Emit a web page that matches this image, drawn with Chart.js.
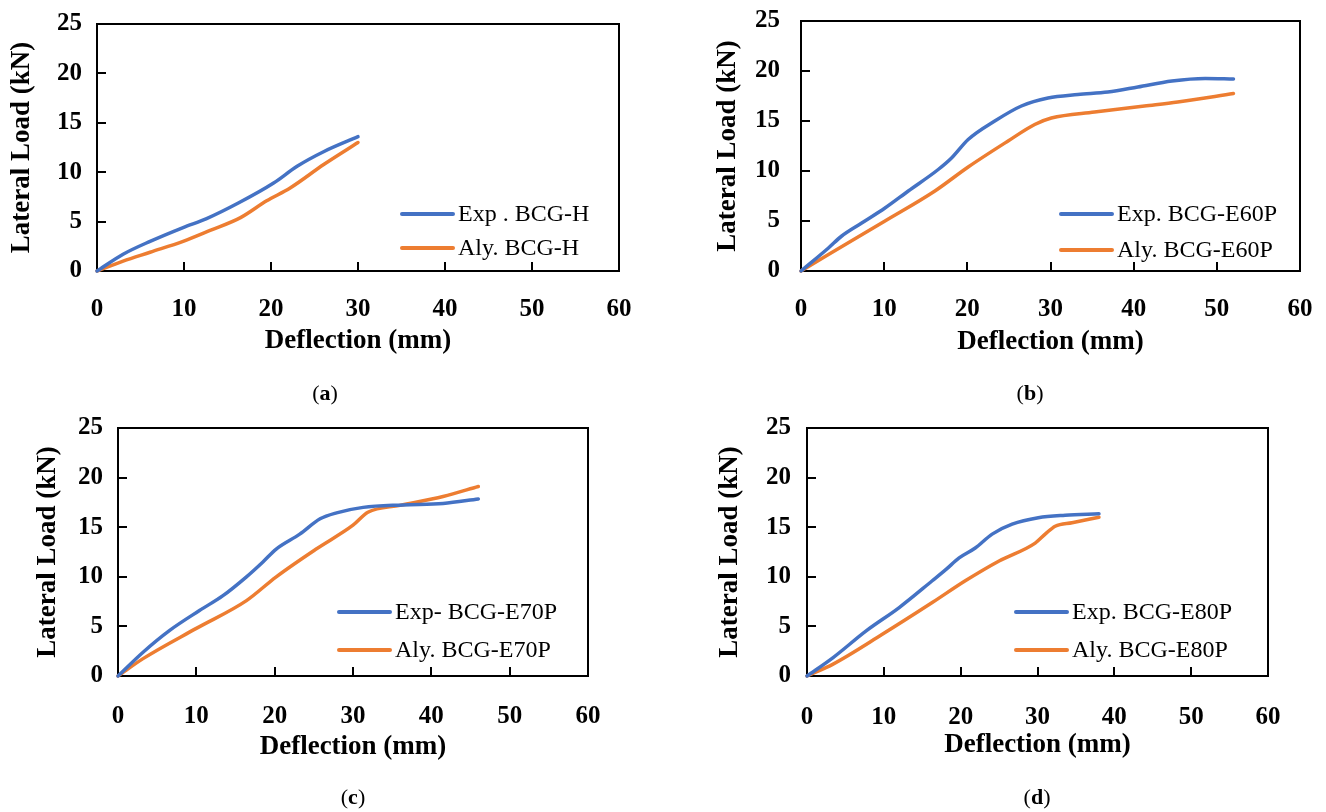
<!doctype html>
<html>

<head>
    <title>Lateral Load vs Deflection</title>
    <script src="https://cdn.jsdelivr.net/npm/chart.js"></script>
    <style>
        body { margin: 0; background: #fff; width: 1326px; height: 812px; position: relative; overflow: hidden; }
        canvas { position: absolute; left: 0; top: 0; }
        .cap { position: absolute; font: 22px "Liberation Serif", serif; color: #000; transform: translate(-50%, -50%); }
    </style>
</head>

<body>
    <canvas id="chartA" width="1326" height="812"></canvas>
    <canvas id="chartB" width="1326" height="812"></canvas>
    <canvas id="chartC" width="1326" height="812"></canvas>
    <canvas id="chartD" width="1326" height="812"></canvas>

    <div class="cap" style="left:325px; top:393px;">(<b>a</b>)</div>
    <div class="cap" style="left:1030px; top:393px;">(<b>b</b>)</div>
    <div class="cap" style="left:353px; top:797px;">(<b>c</b>)</div>
    <div class="cap" style="left:1037px; top:797px;">(<b>d</b>)</div>

    <script>
        // axis ticks
        const xTicks = [0, 10, 20, 30, 40, 50, 60];
        const yTicks = [0, 5, 10, 15, 20, 25];
        const xTitle = 'Deflection (mm)';
        const yTitle = 'Lateral Load (kN)';

        // (a) BCG-H
        const expAX = [0, 3, 6.1, 9.9, 12.6, 16.3, 20.3, 23, 26.1, 30];
        const expAY = [0, 1.7, 3.0, 4.4, 5.3, 6.9, 8.9, 10.6, 12.1, 13.6];
        const alyAX = [0, 3, 6.1, 9.9, 13, 16.5, 19.5, 22.2, 26.1, 30];
        const alyAY = [0, 1.0, 1.9, 3.0, 4.1, 5.4, 7.1, 8.4, 10.8, 13.0];

        // (b) BCG-E60P
        const expBX = [0, 3.3, 4.9, 7.3, 10.1, 12.9, 16.5, 18.1, 20.1, 23.3, 26.5, 29.7, 33.3, 36.9, 40.5, 44.6, 48.6, 52];
        const expBY = [0, 2.3, 3.5, 4.8, 6.3, 8.0, 10.15, 11.3, 13.15, 15.0, 16.5, 17.3, 17.65, 17.9, 18.4, 19.0, 19.25, 19.2];
        const alyBX = [0, 3.3, 10.1, 16.1, 20.1, 24.9, 28.1, 30.1, 35.3, 41.3, 45.3, 52];
        const alyBY = [0, 1.65, 5.0, 8.0, 10.4, 13.0, 14.65, 15.3, 15.9, 16.5, 16.9, 17.75];

        // (c) BCG-E70P
        const expCX = [0, 3.2, 6.6, 10.4, 13.4, 16.4, 18.5, 20.2, 23.2, 25.8, 27.9, 31.3, 36.4, 41.5, 46];
        const expCY = [0, 2.4, 4.6, 6.6, 8.1, 10.0, 11.5, 12.8, 14.3, 15.85, 16.45, 17.0, 17.25, 17.4, 17.85];
        const alyCX = [0, 3.2, 10, 16.4, 20.2, 25.3, 30, 31.9, 36, 41.5, 46];
        const alyCY = [0, 1.75, 4.8, 7.6, 10.0, 12.8, 15.2, 16.5, 17.2, 18.1, 19.1];

        // (d) BCG-E80P
        const expDX = [0, 3.4, 7.7, 12, 16.3, 18.1, 19.8, 21.9, 24.1, 26.7, 30.1, 33.6, 38];
        const expDY = [0, 1.86, 4.55, 6.9, 9.6, 10.75, 11.9, 12.9, 14.3, 15.3, 15.95, 16.2, 16.35];
        const alyDX = [0, 3.4, 9.8, 16.3, 20.6, 25, 29.7, 31, 32.3, 34.5, 38];
        const alyDY = [0, 1.2, 4.2, 7.4, 9.6, 11.6, 13.4, 14.3, 15.1, 15.45, 16.0];

        const legendA = ['Exp . BCG-H', 'Aly. BCG-H'];
        const legendB = ['Exp. BCG-E60P', 'Aly. BCG-E60P'];
        const legendC = ['Exp- BCG-E70P', 'Aly. BCG-E70P'];
        const legendD = ['Exp. BCG-E80P', 'Aly. BCG-E80P'];

        const BLUE = '#4472C4';
        const ORANGE = '#ED7D31';
        const FAMILY = '"Liberation Serif", "Times New Roman", serif';
        const W = 1326, H = 812;
        const TICK_SIZE = 25, TITLE_SIZE = 27;

        Chart.defaults.color = '#000';
        Chart.defaults.font.family = FAMILY;

        function pts(xs, ys) {
            return xs.map((x, i) => ({ x: x, y: ys[i] }));
        }

        // scales should not push the plot area around, positions come from layout.padding
        function noScalePadding(s) {
            s.paddingLeft = 0;
            s.paddingRight = 0;
            s.paddingTop = 0;
            s.paddingBottom = 0;
        }

        // black box round the plot area
        const frame = {
            id: 'frame',
            beforeDatasetsDraw(chart) {
                const { ctx, chartArea: { left, top, right, bottom } } = chart;
                ctx.save();
                ctx.strokeStyle = '#000';
                ctx.lineWidth = 2;
                ctx.strokeRect(left, top, right - left, bottom - top);
                ctx.restore();
            }
        };

        // short tick marks pointing into the plot
        const innerTicks = {
            id: 'innerTicks',
            beforeDatasetsDraw(chart) {
                const { ctx, chartArea: { left, top, right, bottom }, scales: { x, y } } = chart;
                ctx.save();
                ctx.strokeStyle = '#000';
                ctx.lineWidth = 2;
                ctx.beginPath();
                xTicks.slice(1, -1).forEach(v => {
                    const px = Math.round(x.getPixelForValue(v));
                    ctx.moveTo(px, bottom);
                    ctx.lineTo(px, bottom - 9);
                });
                yTicks.slice(1, -1).forEach(v => {
                    const py = Math.round(y.getPixelForValue(v));
                    ctx.moveTo(left, py);
                    ctx.lineTo(left + 9, py);
                });
                ctx.stroke();
                ctx.restore();
            }
        };

        // legend drawn inside the plot, lower right
        const insideLegend = {
            id: 'insideLegend',
            afterDatasetsDraw(chart, args, opts) {
                const ctx = chart.ctx;
                ctx.save();
                chart.data.datasets.forEach((ds, i) => {
                    const yy = opts.y + i * opts.gap;
                    ctx.strokeStyle = ds.borderColor;
                    ctx.lineWidth = 4;
                    ctx.lineCap = 'round';
                    ctx.beginPath();
                    ctx.moveTo(opts.x, yy);
                    ctx.lineTo(opts.x + 51, yy);
                    ctx.stroke();
                    ctx.fillStyle = '#000';
                    ctx.font = '24px ' + FAMILY;
                    ctx.textBaseline = 'middle';
                    ctx.fillText(ds.label, opts.x + 56, yy + 1);
                });
                ctx.restore();
            }
        };

        function makeChart(id, box, lay, labels, exp, aly) {
            const titleLH = TITLE_SIZE * 1.2;
            const tickLH = TICK_SIZE * 1.2;
            const padLeft = lay.yTitleX - titleLH / 2;
            const yWidth = box.left - padLeft;
            const xHeight = lay.xTitleY + titleLH / 2 - box.bottom;

            return new Chart(document.getElementById(id).getContext('2d'), {
                type: 'line',
                data: {
                    datasets: [{
                        label: labels[0],
                        data: exp,
                        borderColor: BLUE,
                        backgroundColor: BLUE,
                        borderWidth: 3.5,
                        pointRadius: 0,
                        cubicInterpolationMode: 'monotone',
                        borderCapStyle: 'round',
                        clip: false
                    }, {
                        label: labels[1],
                        data: aly,
                        borderColor: ORANGE,
                        backgroundColor: ORANGE,
                        borderWidth: 3.5,
                        pointRadius: 0,
                        cubicInterpolationMode: 'monotone',
                        borderCapStyle: 'round',
                        clip: false
                    }]
                },
                options: {
                    responsive: false,
                    animation: false,
                    events: [],
                    layout: {
                        padding: {
                            left: padLeft,
                            top: box.top,
                            right: W - box.right,
                            bottom: H - box.bottom - xHeight
                        }
                    },
                    scales: {
                        x: {
                            type: 'linear',
                            min: 0,
                            max: 60,
                            afterBuildTicks: s => { s.ticks = xTicks.map(v => ({ value: v })); },
                            afterFit: s => { s.height = xHeight; noScalePadding(s); },
                            grid: { display: false, drawTicks: false },
                            border: { display: false },
                            ticks: {
                                padding: lay.xTickY - box.bottom - tickLH / 2,
                                maxRotation: 0,
                                autoSkip: false,
                                font: { size: TICK_SIZE, weight: 'bold' }
                            },
                            title: {
                                display: true,
                                text: xTitle,
                                padding: 0,
                                font: { size: TITLE_SIZE, weight: 'bold' }
                            }
                        },
                        y: {
                            type: 'linear',
                            min: 0,
                            max: 25,
                            afterBuildTicks: s => { s.ticks = yTicks.map(v => ({ value: v })); },
                            afterFit: s => { s.width = yWidth; noScalePadding(s); },
                            grid: { display: false, drawTicks: false },
                            border: { display: false },
                            ticks: {
                                padding: lay.yTickGap,
                                autoSkip: false,
                                font: { size: TICK_SIZE, weight: 'bold' }
                            },
                            title: {
                                display: true,
                                text: yTitle,
                                padding: 0,
                                font: { size: TITLE_SIZE, weight: 'bold' }
                            }
                        }
                    },
                    plugins: {
                        legend: { display: false },
                        tooltip: { enabled: false },
                        insideLegend: lay.legend
                    }
                },
                plugins: [frame, innerTicks, insideLegend]
            });
        }

        makeChart('chartA',
            { left: 97, top: 24, right: 619, bottom: 271 },
            { yTitleX: 22, yTickGap: 15, xTickY: 310, xTitleY: 341, legend: { x: 402, y: 214, gap: 34 } },
            legendA, pts(expAX, expAY), pts(alyAX, alyAY));

        makeChart('chartB',
            { left: 801, top: 21, right: 1300, bottom: 271 },
            { yTitleX: 728, yTickGap: 21, xTickY: 310, xTitleY: 342, legend: { x: 1061, y: 214, gap: 36 } },
            legendB, pts(expBX, expBY), pts(alyBX, alyBY));

        makeChart('chartC',
            { left: 118, top: 428, right: 588, bottom: 676 },
            { yTitleX: 48, yTickGap: 15, xTickY: 717, xTitleY: 747, legend: { x: 339, y: 612, gap: 38 } },
            legendC, pts(expCX, expCY), pts(alyCX, alyCY));

        makeChart('chartD',
            { left: 807, top: 428, right: 1268, bottom: 676 },
            { yTitleX: 730, yTickGap: 16, xTickY: 718, xTitleY: 745, legend: { x: 1016, y: 612, gap: 38 } },
            legendD, pts(expDX, expDY), pts(alyDX, alyDY));
    </script>
</body>

</html>
